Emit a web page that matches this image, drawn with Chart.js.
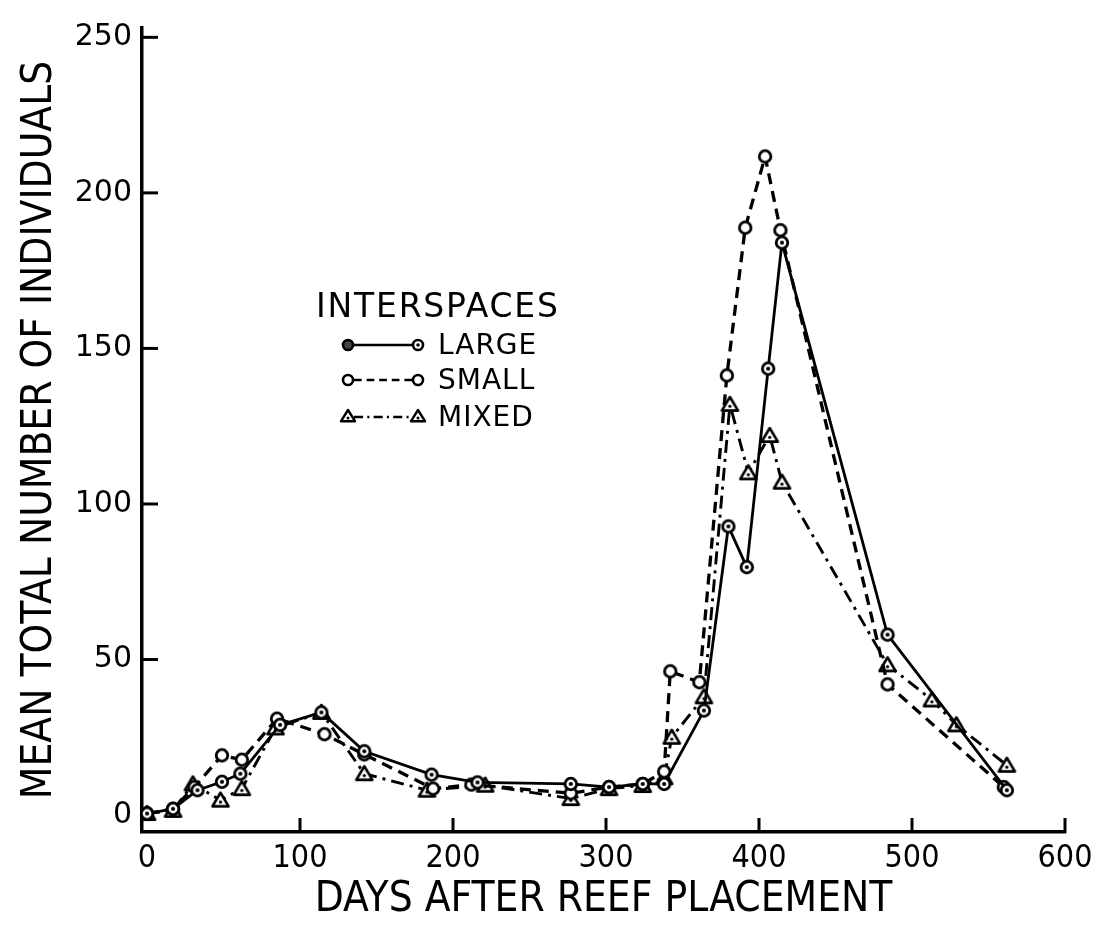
<!DOCTYPE html>
<html>
<head>
<meta charset="utf-8">
<script src="https://cdn.jsdelivr.net/npm/chart.js@4.4.1/dist/chart.umd.min.js"></script>
<style>
  html, body { margin: 0; padding: 0; background: #fff; }
  #wrap { position: relative; width: 1104px; height: 932px; overflow: hidden; }
  #chart { position: absolute; left: 0; top: 0; }
  #keyArt { position: absolute; left: 0; top: 0; pointer-events: none; }
  .key { position: absolute; font-family: 'DejaVu Sans', sans-serif; color: #000; line-height: 1; white-space: nowrap; }
  .key.head { font-size: 33px; letter-spacing: 1.8px; }
  .key.row { font-size: 28px; letter-spacing: 1px; }
</style>
</head>
<body>
<div id="wrap">
  <canvas id="chart" width="1104" height="932"></canvas>
  <svg id="keyArt" width="1104" height="932"></svg>
  <div class="key head" style="left:316px; top:289px;">INTERSPACES</div>
  <div class="key row" style="left:438px; top:331px;">LARGE</div>
  <div class="key row" style="left:438px; top:366px;">SMALL</div>
  <div class="key row" style="left:438px; top:403px;">MIXED</div>
</div>
<script>
// Mean total number of individuals on reef units, by interspace treatment
const largeDays   = [0, 17, 33, 49, 61, 87, 114, 142, 186, 216, 277, 302, 324, 338, 364, 380, 392, 406, 415, 484, 562];
const largeCounts = [0.5, 2, 8, 10.7, 13.3, 29, 33, 20.5, 13, 10.5, 10, 9, 10, 10, 33.6, 92.8, 79.7, 143.5, 184, 58, 8];

const smallDays   = [0, 17, 31, 49, 62, 85, 116, 142, 187, 212, 277, 302, 324, 338, 342, 361, 379, 391, 404, 414, 484, 560];
const smallCounts = [0.5, 2, 9, 19.2, 17.8, 31, 26, 19.5, 8.5, 9.8, 7, 9, 10, 14, 46.2, 42.7, 141.3, 188.8, 211.7, 188, 42, 9];

const mixedDays   = [0, 17, 30, 48, 62, 84, 114, 142, 183, 221, 277, 302, 324, 338, 343, 364, 381, 393, 407, 415, 484, 513, 529, 562];
const mixedCounts = [0.5, 1.5, 10, 4.8, 8.5, 28, 33, 13.3, 8, 9.6, 5.3, 8.5, 9.5, 12, 25, 38, 132, 110, 122, 107, 48.3, 37, 29, 16];

const xTickValues = [0, 100, 200, 300, 400, 500, 600];
const yTickValues = [0, 50, 100, 150, 200, 250];

const pairs = (xs, ys) => xs.map((x, i) => ({ x: x, y: ys[i] }));

// point glyphs
function ringGlyph(r, lw, dotR) {
  const s = Math.ceil(2 * (r + lw)) + 2;
  const c = document.createElement('canvas');
  c.width = s; c.height = s;
  const g = c.getContext('2d');
  g.beginPath(); g.arc(s / 2, s / 2, r, 0, Math.PI * 2);
  g.fillStyle = '#fff'; g.fill();
  g.lineWidth = lw; g.strokeStyle = '#000'; g.stroke();
  if (dotR) {
    g.beginPath(); g.arc(s / 2, s / 2, dotR, 0, Math.PI * 2);
    g.fillStyle = '#000'; g.fill();
  }
  return c;
}
function triGlyph(r, lw) {
  const s = Math.ceil(2 * (r + lw)) + 2;
  const c = document.createElement('canvas');
  c.width = s; c.height = s;
  const g = c.getContext('2d');
  const cx = s / 2, cy = s / 2 + 1;
  g.beginPath();
  g.moveTo(cx, cy - r);
  g.lineTo(cx + r * 0.95, cy + r * 0.6);
  g.lineTo(cx - r * 0.95, cy + r * 0.6);
  g.closePath();
  g.fillStyle = '#fff'; g.fill();
  g.lineWidth = lw; g.lineJoin = 'round'; g.strokeStyle = '#000'; g.stroke();
  g.beginPath(); g.arc(cx, cy + r * 0.1, 1.6, 0, Math.PI * 2);
  g.fillStyle = '#000'; g.fill();
  return c;
}
const largeGlyph = ringGlyph(5.8, 2.8, 2.1);
const smallGlyph = ringGlyph(5.8, 2.8, 0);
const mixedGlyph = triGlyph(8.5, 2.6);

const SMALL_DASH = [11, 7];
const MIXED_DASH = [13, 6, 3, 6];

// ticks drawn on the inner side of both axes
const innerTicks = {
  id: 'innerTicks',
  afterDraw(chart) {
    const { ctx, scales: { x, y } } = chart;
    ctx.save();
    ctx.strokeStyle = '#000';
    ctx.lineWidth = 3;
    ctx.lineCap = 'butt';
    x.ticks.forEach(t => {
      if (t.value === 0) return;
      const px = x.getPixelForValue(t.value);
      ctx.beginPath(); ctx.moveTo(px, y.bottom + 1); ctx.lineTo(px, y.bottom - 14); ctx.stroke();
    });
    y.ticks.forEach(t => {
      if (t.value === 0) return;
      const py = y.getPixelForValue(t.value);
      ctx.beginPath(); ctx.moveTo(x.left - 1, py); ctx.lineTo(x.left + 16, py); ctx.stroke();
    });
    ctx.restore();
  }
};

const axisFont = 'DejaVu Sans';
const narrowFont = "'DejaVu Sans Condensed', 'DejaVu Sans'";

new Chart(document.getElementById('chart'), {
  type: 'line',
  data: {
    datasets: [
      {
        label: 'LARGE',
        data: pairs(largeDays, largeCounts),
        borderColor: '#000', borderWidth: 2.8,
        pointStyle: largeGlyph, pointRadius: 6,
        tension: 0
      },
      {
        label: 'SMALL',
        data: pairs(smallDays, smallCounts),
        borderColor: '#000', borderWidth: 3.3, borderDash: SMALL_DASH,
        pointStyle: smallGlyph, pointRadius: 6,
        tension: 0
      },
      {
        label: 'MIXED',
        data: pairs(mixedDays, mixedCounts),
        borderColor: '#000', borderWidth: 2.9, borderDash: MIXED_DASH,
        pointStyle: mixedGlyph, pointRadius: 7,
        tension: 0
      }
    ]
  },
  options: {
    responsive: false,
    animation: false,
    layout: { padding: { top: 24, right: 39, bottom: 0, left: 0 } },
    plugins: { legend: { display: false }, tooltip: { enabled: false } },
    scales: {
      x: {
        type: 'linear',
        min: -3.27, max: 600,
        afterBuildTicks: s => { s.ticks = xTickValues.map(v => ({ value: v })); },
        afterFit: s => { s.height = 100; },
        grid: { display: true, drawOnChartArea: false, drawTicks: false },
        border: { display: true, color: '#000', width: 3.5 },
        ticks: {
          color: '#000', padding: 7, maxRotation: 0,
          font: { family: narrowFont, size: 32 },
          callback: v => String(v)
        },
        title: {
          display: true, text: 'DAYS AFTER REEF PLACEMENT', color: '#000',
          font: { family: narrowFont, size: 42 },
          padding: { top: 0, bottom: 7 }
        }
      },
      y: {
        type: 'linear',
        min: -5.44, max: 253,
        afterBuildTicks: s => { s.ticks = yTickValues.map(v => ({ value: v })); },
        afterFit: s => { s.width = 142; },
        grid: { display: true, drawOnChartArea: false, drawTicks: false },
        border: { display: true, color: '#000', width: 3.5 },
        ticks: {
          color: '#000', padding: 10,
          font: { family: axisFont, size: 30 },
          callback: v => String(v)
        },
        title: {
          display: true, text: 'MEAN TOTAL NUMBER OF INDIVIDUALS', color: '#000',
          font: { family: narrowFont, size: 42 },
          padding: { top: 15, bottom: 0 }
        }
      }
    }
  },
  plugins: [innerTicks]
});

// key glyphs next to the labels
(function drawKey() {
  const ns = 'http://www.w3.org/2000/svg';
  const svg = document.getElementById('keyArt');
  const add = (tag, attrs) => {
    const el = document.createElementNS(ns, tag);
    Object.entries(attrs).forEach(([k, v]) => el.setAttribute(k, v));
    svg.appendChild(el);
    return el;
  };
  const rows = [
    { y: 345, dash: 'none', kind: 'large' },
    { y: 380, dash: SMALL_DASH.map(d => d * 0.7).join(','), kind: 'small' },
    { y: 417, dash: MIXED_DASH.map(d => d * 0.7).join(','), kind: 'mixed' }
  ];
  const x0 = 348, x1 = 418;
  rows.forEach(r => {
    add('line', { x1: x0 + 6, y1: r.y, x2: x1 - 6, y2: r.y, stroke: '#000', 'stroke-width': 2.6,
                  'stroke-dasharray': r.dash });
    [x0, x1].forEach((cx, i) => {
      if (r.kind === 'mixed') {
        const s = 7;
        add('polygon', { points: `${cx},${r.y - s} ${cx + s},${r.y + s * 0.6} ${cx - s},${r.y + s * 0.6}`,
                         fill: '#fff', stroke: '#000', 'stroke-width': 2.4, 'stroke-linejoin': 'round' });
        add('circle', { cx: cx, cy: r.y + 1, r: 1.5, fill: '#000' });
      } else {
        add('circle', { cx: cx, cy: r.y, r: 5, fill: (r.kind === 'large' && i === 0) ? '#444' : '#fff',
                        stroke: '#000', 'stroke-width': 2.6 });
        if (r.kind === 'large' && i === 1) add('circle', { cx: cx, cy: r.y, r: 1.8, fill: '#000' });
      }
    });
  });
})();
</script>
</body>
</html>
